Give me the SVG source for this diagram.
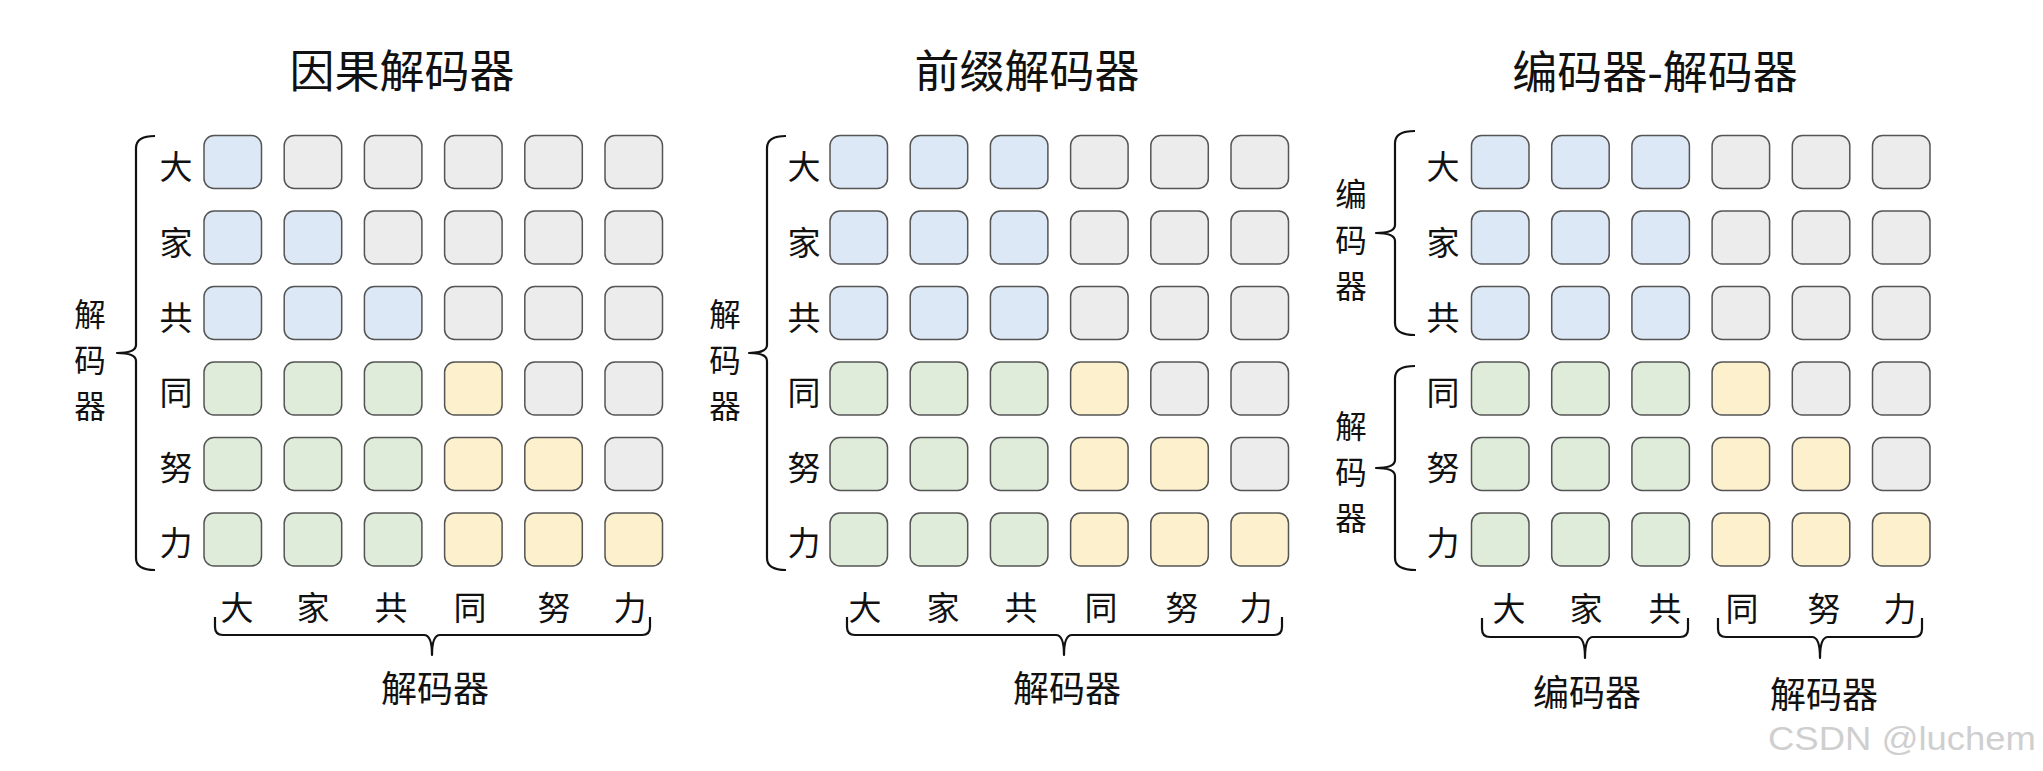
<svg xmlns="http://www.w3.org/2000/svg" width="2043" height="771" viewBox="0 0 2043 771">
<style>
.c{stroke:#555;stroke-width:1.5;rx:10;ry:10}
.B{fill:#dce8f5}.G{fill:#ececec}.N{fill:#dfecda}.Y{fill:#fdf0cd}
.t{font-family:"Noto Sans CJK SC","Noto Sans CJK JP",sans-serif;fill:#111;text-anchor:middle;dominant-baseline:central}
.ti{font-size:45px}.gl{font-size:36px}.gv{font-size:31.5px}.lb{font-size:33px}
.br{fill:none;stroke:#111;stroke-width:2.2;stroke-linejoin:round}
.wm{font-family:"Liberation Sans",Arial,sans-serif;font-size:34px;fill:#cfcfcf}
</style>
<rect width="2043" height="771" fill="#fff"/>

<g id="titles">
<text class="t ti" x="402" y="68">因果解码器</text>
<text class="t ti" x="1027" y="68">前缀解码器</text>
<text class="t ti" x="1655" y="69">编码器-解码器</text>
</g>

<!-- Panel 1: causal decoder -->
<g id="p1-cells">
<g id="p1-r0c0"><rect class="c B" x="204" y="135.5" width="57.5" height="53"/></g>
<g id="p1-r0c1"><rect class="c G" x="284.2" y="135.5" width="57.5" height="53"/></g>
<g id="p1-r0c2"><rect class="c G" x="364.4" y="135.5" width="57.5" height="53"/></g>
<g id="p1-r0c3"><rect class="c G" x="444.6" y="135.5" width="57.5" height="53"/></g>
<g id="p1-r0c4"><rect class="c G" x="524.8" y="135.5" width="57.5" height="53"/></g>
<g id="p1-r0c5"><rect class="c G" x="605" y="135.5" width="57.5" height="53"/></g>
<g id="p1-r1c0"><rect class="c B" x="204" y="211" width="57.5" height="53"/></g>
<g id="p1-r1c1"><rect class="c B" x="284.2" y="211" width="57.5" height="53"/></g>
<g id="p1-r1c2"><rect class="c G" x="364.4" y="211" width="57.5" height="53"/></g>
<g id="p1-r1c3"><rect class="c G" x="444.6" y="211" width="57.5" height="53"/></g>
<g id="p1-r1c4"><rect class="c G" x="524.8" y="211" width="57.5" height="53"/></g>
<g id="p1-r1c5"><rect class="c G" x="605" y="211" width="57.5" height="53"/></g>
<g id="p1-r2c0"><rect class="c B" x="204" y="286.5" width="57.5" height="53"/></g>
<g id="p1-r2c1"><rect class="c B" x="284.2" y="286.5" width="57.5" height="53"/></g>
<g id="p1-r2c2"><rect class="c B" x="364.4" y="286.5" width="57.5" height="53"/></g>
<g id="p1-r2c3"><rect class="c G" x="444.6" y="286.5" width="57.5" height="53"/></g>
<g id="p1-r2c4"><rect class="c G" x="524.8" y="286.5" width="57.5" height="53"/></g>
<g id="p1-r2c5"><rect class="c G" x="605" y="286.5" width="57.5" height="53"/></g>
<g id="p1-r3c0"><rect class="c N" x="204" y="362" width="57.5" height="53"/></g>
<g id="p1-r3c1"><rect class="c N" x="284.2" y="362" width="57.5" height="53"/></g>
<g id="p1-r3c2"><rect class="c N" x="364.4" y="362" width="57.5" height="53"/></g>
<g id="p1-r3c3"><rect class="c Y" x="444.6" y="362" width="57.5" height="53"/></g>
<g id="p1-r3c4"><rect class="c G" x="524.8" y="362" width="57.5" height="53"/></g>
<g id="p1-r3c5"><rect class="c G" x="605" y="362" width="57.5" height="53"/></g>
<g id="p1-r4c0"><rect class="c N" x="204" y="437.5" width="57.5" height="53"/></g>
<g id="p1-r4c1"><rect class="c N" x="284.2" y="437.5" width="57.5" height="53"/></g>
<g id="p1-r4c2"><rect class="c N" x="364.4" y="437.5" width="57.5" height="53"/></g>
<g id="p1-r4c3"><rect class="c Y" x="444.6" y="437.5" width="57.5" height="53"/></g>
<g id="p1-r4c4"><rect class="c Y" x="524.8" y="437.5" width="57.5" height="53"/></g>
<g id="p1-r4c5"><rect class="c G" x="605" y="437.5" width="57.5" height="53"/></g>
<g id="p1-r5c0"><rect class="c N" x="204" y="513" width="57.5" height="53"/></g>
<g id="p1-r5c1"><rect class="c N" x="284.2" y="513" width="57.5" height="53"/></g>
<g id="p1-r5c2"><rect class="c N" x="364.4" y="513" width="57.5" height="53"/></g>
<g id="p1-r5c3"><rect class="c Y" x="444.6" y="513" width="57.5" height="53"/></g>
<g id="p1-r5c4"><rect class="c Y" x="524.8" y="513" width="57.5" height="53"/></g>
<g id="p1-r5c5"><rect class="c Y" x="605" y="513" width="57.5" height="53"/></g>
</g>
<g id="p1-labels">
<text class="t lb" x="176" y="165">大</text>
<text class="t lb" x="176" y="241">家</text>
<text class="t lb" x="176" y="316">共</text>
<text class="t lb" x="176" y="391">同</text>
<text class="t lb" x="176" y="466">努</text>
<text class="t lb" x="176" y="541">力</text>
<text class="t lb" x="237" y="606">大</text>
<text class="t lb" x="313" y="606">家</text>
<text class="t lb" x="391" y="606">共</text>
<text class="t lb" x="470" y="606">同</text>
<text class="t lb" x="554" y="606">努</text>
<text class="t lb" x="630" y="606">力</text>
<text class="t gv" x="90"><tspan x="90" y="312">解</tspan><tspan x="90" y="358">码</tspan><tspan x="90" y="404">器</tspan></text>
<text class="t gl" x="435" y="686">解码器</text>
</g>

<!-- Panel 2: prefix decoder -->
<g id="p2-cells">
<g id="p2-r0c0"><rect class="c B" x="830" y="135.5" width="57.5" height="53"/></g>
<g id="p2-r0c1"><rect class="c B" x="910.2" y="135.5" width="57.5" height="53"/></g>
<g id="p2-r0c2"><rect class="c B" x="990.4" y="135.5" width="57.5" height="53"/></g>
<g id="p2-r0c3"><rect class="c G" x="1070.6" y="135.5" width="57.5" height="53"/></g>
<g id="p2-r0c4"><rect class="c G" x="1150.8" y="135.5" width="57.5" height="53"/></g>
<g id="p2-r0c5"><rect class="c G" x="1231" y="135.5" width="57.5" height="53"/></g>
<g id="p2-r1c0"><rect class="c B" x="830" y="211" width="57.5" height="53"/></g>
<g id="p2-r1c1"><rect class="c B" x="910.2" y="211" width="57.5" height="53"/></g>
<g id="p2-r1c2"><rect class="c B" x="990.4" y="211" width="57.5" height="53"/></g>
<g id="p2-r1c3"><rect class="c G" x="1070.6" y="211" width="57.5" height="53"/></g>
<g id="p2-r1c4"><rect class="c G" x="1150.8" y="211" width="57.5" height="53"/></g>
<g id="p2-r1c5"><rect class="c G" x="1231" y="211" width="57.5" height="53"/></g>
<g id="p2-r2c0"><rect class="c B" x="830" y="286.5" width="57.5" height="53"/></g>
<g id="p2-r2c1"><rect class="c B" x="910.2" y="286.5" width="57.5" height="53"/></g>
<g id="p2-r2c2"><rect class="c B" x="990.4" y="286.5" width="57.5" height="53"/></g>
<g id="p2-r2c3"><rect class="c G" x="1070.6" y="286.5" width="57.5" height="53"/></g>
<g id="p2-r2c4"><rect class="c G" x="1150.8" y="286.5" width="57.5" height="53"/></g>
<g id="p2-r2c5"><rect class="c G" x="1231" y="286.5" width="57.5" height="53"/></g>
<g id="p2-r3c0"><rect class="c N" x="830" y="362" width="57.5" height="53"/></g>
<g id="p2-r3c1"><rect class="c N" x="910.2" y="362" width="57.5" height="53"/></g>
<g id="p2-r3c2"><rect class="c N" x="990.4" y="362" width="57.5" height="53"/></g>
<g id="p2-r3c3"><rect class="c Y" x="1070.6" y="362" width="57.5" height="53"/></g>
<g id="p2-r3c4"><rect class="c G" x="1150.8" y="362" width="57.5" height="53"/></g>
<g id="p2-r3c5"><rect class="c G" x="1231" y="362" width="57.5" height="53"/></g>
<g id="p2-r4c0"><rect class="c N" x="830" y="437.5" width="57.5" height="53"/></g>
<g id="p2-r4c1"><rect class="c N" x="910.2" y="437.5" width="57.5" height="53"/></g>
<g id="p2-r4c2"><rect class="c N" x="990.4" y="437.5" width="57.5" height="53"/></g>
<g id="p2-r4c3"><rect class="c Y" x="1070.6" y="437.5" width="57.5" height="53"/></g>
<g id="p2-r4c4"><rect class="c Y" x="1150.8" y="437.5" width="57.5" height="53"/></g>
<g id="p2-r4c5"><rect class="c G" x="1231" y="437.5" width="57.5" height="53"/></g>
<g id="p2-r5c0"><rect class="c N" x="830" y="513" width="57.5" height="53"/></g>
<g id="p2-r5c1"><rect class="c N" x="910.2" y="513" width="57.5" height="53"/></g>
<g id="p2-r5c2"><rect class="c N" x="990.4" y="513" width="57.5" height="53"/></g>
<g id="p2-r5c3"><rect class="c Y" x="1070.6" y="513" width="57.5" height="53"/></g>
<g id="p2-r5c4"><rect class="c Y" x="1150.8" y="513" width="57.5" height="53"/></g>
<g id="p2-r5c5"><rect class="c Y" x="1231" y="513" width="57.5" height="53"/></g>
</g>
<g id="p2-labels">
<text class="t lb" x="804" y="165">大</text>
<text class="t lb" x="804" y="241">家</text>
<text class="t lb" x="804" y="316">共</text>
<text class="t lb" x="804" y="391">同</text>
<text class="t lb" x="804" y="466">努</text>
<text class="t lb" x="804" y="541">力</text>
<text class="t lb" x="865" y="606">大</text>
<text class="t lb" x="943" y="606">家</text>
<text class="t lb" x="1021" y="606">共</text>
<text class="t lb" x="1101" y="606">同</text>
<text class="t lb" x="1182" y="606">努</text>
<text class="t lb" x="1256" y="606">力</text>
<text class="t gv" x="725"><tspan x="725" y="312">解</tspan><tspan x="725" y="358">码</tspan><tspan x="725" y="404">器</tspan></text>
<text class="t gl" x="1067" y="686">解码器</text>
</g>

<!-- Panel 3: encoder-decoder -->
<g id="p3-cells">
<g id="p3-r0c0"><rect class="c B" x="1471.5" y="135.5" width="57.5" height="53"/></g>
<g id="p3-r0c1"><rect class="c B" x="1551.7" y="135.5" width="57.5" height="53"/></g>
<g id="p3-r0c2"><rect class="c B" x="1631.9" y="135.5" width="57.5" height="53"/></g>
<g id="p3-r0c3"><rect class="c G" x="1712.1" y="135.5" width="57.5" height="53"/></g>
<g id="p3-r0c4"><rect class="c G" x="1792.3" y="135.5" width="57.5" height="53"/></g>
<g id="p3-r0c5"><rect class="c G" x="1872.5" y="135.5" width="57.5" height="53"/></g>
<g id="p3-r1c0"><rect class="c B" x="1471.5" y="211" width="57.5" height="53"/></g>
<g id="p3-r1c1"><rect class="c B" x="1551.7" y="211" width="57.5" height="53"/></g>
<g id="p3-r1c2"><rect class="c B" x="1631.9" y="211" width="57.5" height="53"/></g>
<g id="p3-r1c3"><rect class="c G" x="1712.1" y="211" width="57.5" height="53"/></g>
<g id="p3-r1c4"><rect class="c G" x="1792.3" y="211" width="57.5" height="53"/></g>
<g id="p3-r1c5"><rect class="c G" x="1872.5" y="211" width="57.5" height="53"/></g>
<g id="p3-r2c0"><rect class="c B" x="1471.5" y="286.5" width="57.5" height="53"/></g>
<g id="p3-r2c1"><rect class="c B" x="1551.7" y="286.5" width="57.5" height="53"/></g>
<g id="p3-r2c2"><rect class="c B" x="1631.9" y="286.5" width="57.5" height="53"/></g>
<g id="p3-r2c3"><rect class="c G" x="1712.1" y="286.5" width="57.5" height="53"/></g>
<g id="p3-r2c4"><rect class="c G" x="1792.3" y="286.5" width="57.5" height="53"/></g>
<g id="p3-r2c5"><rect class="c G" x="1872.5" y="286.5" width="57.5" height="53"/></g>
<g id="p3-r3c0"><rect class="c N" x="1471.5" y="362" width="57.5" height="53"/></g>
<g id="p3-r3c1"><rect class="c N" x="1551.7" y="362" width="57.5" height="53"/></g>
<g id="p3-r3c2"><rect class="c N" x="1631.9" y="362" width="57.5" height="53"/></g>
<g id="p3-r3c3"><rect class="c Y" x="1712.1" y="362" width="57.5" height="53"/></g>
<g id="p3-r3c4"><rect class="c G" x="1792.3" y="362" width="57.5" height="53"/></g>
<g id="p3-r3c5"><rect class="c G" x="1872.5" y="362" width="57.5" height="53"/></g>
<g id="p3-r4c0"><rect class="c N" x="1471.5" y="437.5" width="57.5" height="53"/></g>
<g id="p3-r4c1"><rect class="c N" x="1551.7" y="437.5" width="57.5" height="53"/></g>
<g id="p3-r4c2"><rect class="c N" x="1631.9" y="437.5" width="57.5" height="53"/></g>
<g id="p3-r4c3"><rect class="c Y" x="1712.1" y="437.5" width="57.5" height="53"/></g>
<g id="p3-r4c4"><rect class="c Y" x="1792.3" y="437.5" width="57.5" height="53"/></g>
<g id="p3-r4c5"><rect class="c G" x="1872.5" y="437.5" width="57.5" height="53"/></g>
<g id="p3-r5c0"><rect class="c N" x="1471.5" y="513" width="57.5" height="53"/></g>
<g id="p3-r5c1"><rect class="c N" x="1551.7" y="513" width="57.5" height="53"/></g>
<g id="p3-r5c2"><rect class="c N" x="1631.9" y="513" width="57.5" height="53"/></g>
<g id="p3-r5c3"><rect class="c Y" x="1712.1" y="513" width="57.5" height="53"/></g>
<g id="p3-r5c4"><rect class="c Y" x="1792.3" y="513" width="57.5" height="53"/></g>
<g id="p3-r5c5"><rect class="c Y" x="1872.5" y="513" width="57.5" height="53"/></g>
</g>
<g id="p3-labels">
<text class="t lb" x="1443" y="165">大</text>
<text class="t lb" x="1443" y="241">家</text>
<text class="t lb" x="1443" y="316">共</text>
<text class="t lb" x="1443" y="391">同</text>
<text class="t lb" x="1443" y="466">努</text>
<text class="t lb" x="1443" y="541">力</text>
<text class="t lb" x="1509" y="607">大</text>
<text class="t lb" x="1586" y="607">家</text>
<text class="t lb" x="1665" y="607">共</text>
<text class="t lb" x="1742" y="607">同</text>
<text class="t lb" x="1824" y="607">努</text>
<text class="t lb" x="1900" y="607">力</text>
<text class="t gv" x="1351"><tspan x="1351" y="192">编</tspan><tspan x="1351" y="238">码</tspan><tspan x="1351" y="284">器</tspan></text>
<text class="t gv" x="1351"><tspan x="1351" y="424">解</tspan><tspan x="1351" y="470">码</tspan><tspan x="1351" y="516">器</tspan></text>
<text class="t gl" x="1587" y="690">编码器</text>
<text class="t gl" x="1824" y="692">解码器</text>
</g>

<g id="connectors">
<path class="br" d="M155,136 Q136,136 136,148 L136,345 Q136,353 117,353 Q136,353 136,361 L136,558 Q136,570 155,570"/>
<path class="br" d="M215,617 L215,627 Q215,635 223,635 L424,635 Q432,635 432,655 Q432,635 440,635 L642,635 Q650,635 650,627 L650,617"/>
<path class="br" d="M786,136 Q767,136 767,148 L767,345 Q767,353 749,353 Q767,353 767,361 L767,558 Q767,570 786,570"/>
<path class="br" d="M847,617 L847,627 Q847,635 855,635 L1056,635 Q1064,635 1064,655 Q1064,635 1072,635 L1274,635 Q1282,635 1282,627 L1282,617"/>
<path class="br" d="M1415,131 Q1395,131 1395,143 L1395,225 Q1395,233 1376,233 Q1395,233 1395,241 L1395,323 Q1395,335 1415,335"/>
<path class="br" d="M1415,366 Q1395,366 1395,378 L1395,460 Q1395,468 1376,468 Q1395,468 1395,476 L1395,558 Q1395,570 1416,570"/>
<path class="br" d="M1482,618 L1482,629 Q1482,637 1490,637 L1577,637 Q1585,637 1585,658 Q1585,637 1593,637 L1680,637 Q1688,637 1688,629 L1688,618"/>
<path class="br" d="M1718,618 L1718,629 Q1718,637 1726,637 L1812,637 Q1820,637 1820,658 Q1820,637 1828,637 L1914,637 Q1922,637 1922,629 L1922,618"/>
</g>

<text class="wm" x="1768" y="750" textLength="268" lengthAdjust="spacingAndGlyphs">CSDN @luchem</text>
</svg>
